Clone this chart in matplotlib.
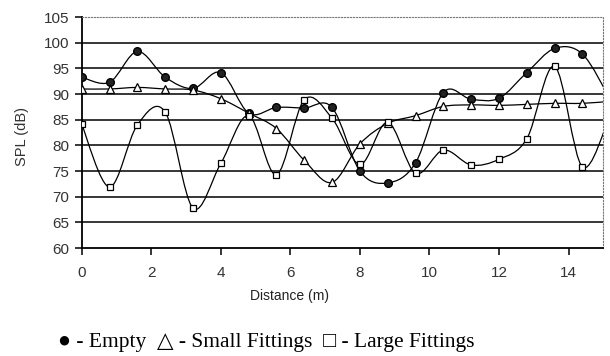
import matplotlib
matplotlib.use("Agg")
import matplotlib.pyplot as plt
from matplotlib.path import Path
from matplotlib.patches import PathPatch
import numpy as np

# distance along the room (m); last point sits just past the axis edge
distance = [0, 0.8, 1.6, 2.4, 3.2, 4.0, 4.8, 5.6, 6.4, 7.2, 8.0, 8.8,
            9.6, 10.4, 11.2, 12.0, 12.8, 13.6, 14.4, 15.2]

spl_empty = [93.3, 92.3, 98.3, 93.3, 91.1, 94.2, 86.3, 87.4, 87.3, 87.4,
             75.0, 72.7, 76.6, 90.3, 89.0, 89.2, 94.2, 98.9, 97.8, 89.0]
spl_small = [91.0, 91.0, 91.3, 91.0, 90.8, 89.1, 86.3, 83.3, 77.1, 72.8,
             80.3, 84.3, 85.8, 87.6, 87.9, 87.8, 88.0, 88.2, 88.2, 88.6]
spl_large = [84.1, 71.9, 84.0, 86.5, 67.8, 76.5, 85.8, 74.3, 88.9, 85.3,
             76.3, 84.5, 74.6, 79.1, 76.2, 77.3, 81.3, 95.4, 75.8, 86.0]

yticks = [60, 65, 70, 75, 80, 85, 90, 95, 100, 105]
xticks = [0, 2, 4, 6, 8, 10, 12, 14]


def smooth_path(x, y):
    # Excel-style smoothed line: cubic Bezier through every point
    p = np.column_stack([x, y]).astype(float)
    ext = np.vstack([p[0], p, p[-1]])
    verts = [p[0]]
    codes = [Path.MOVETO]
    for i in range(len(p) - 1):
        c1 = p[i] + (ext[i + 2] - ext[i]) / 6.0
        c2 = p[i + 1] - (ext[i + 3] - ext[i + 1]) / 6.0
        verts += [c1, c2, p[i + 1]]
        codes += [Path.CURVE4] * 3
    return Path(verts, codes)


fig = plt.figure(figsize=(6.1, 3.56), dpi=100)
ax = fig.add_axes([0.134, 0.303, 0.855, 0.649])

for lvl in yticks[1:-1]:
    ax.axhline(lvl, color="black", lw=1.1, zorder=1)

for ys in (spl_empty, spl_small, spl_large):
    ax.add_patch(PathPatch(smooth_path(distance, ys), facecolor="none",
                           edgecolor="black", lw=0.9, zorder=2))

ax.plot(distance, spl_empty, ls="none", marker="o", ms=5.5,
        mfc="#222222", mec="black", zorder=3)
ax.plot(distance, spl_small, ls="none", marker="^", ms=5.5,
        mfc="white", mec="black", mew=0.9, zorder=3)
ax.plot(distance, spl_large, ls="none", marker="s", ms=5,
        mfc="white", mec="black", mew=0.9, zorder=3)

ax.set_xlim(0, 15)
ax.set_ylim(60, 105)
ax.set_xticks(xticks)
ax.set_yticks(yticks)
ax.tick_params(direction="out", length=5, width=1.1, colors="black",
               labelsize=11, pad=4)
for lab in ax.get_xticklabels() + ax.get_yticklabels():
    lab.set_fontfamily("Liberation Sans")
    lab.set_color("#333333")
ax.tick_params(axis="x", pad=8)

ax.spines["left"].set_linewidth(1.3)
ax.spines["bottom"].set_linewidth(1.3)
ax.spines["top"].set_linestyle(":")
ax.spines["top"].set_color("#777777")
ax.spines["right"].set_linestyle(":")
ax.spines["right"].set_color("#777777")

fig.text(22 / 610, 1 - 137 / 356, "SPL (dB)", rotation=90, ha="center",
         va="center", fontsize=10.5, family="Liberation Sans", color="#333333")
fig.text(290 / 610, 1 - 296 / 356, "Distance (m)", ha="center", va="center",
         fontsize=10, family="Liberation Sans", color="#222222")
fig.text(266 / 610, 1 - 343 / 356,
         "\u25CF - Empty  \u25B3 - Small Fittings  \u25A1 - Large Fittings",
         ha="center", va="center", fontsize=15.5,
         family=["Liberation Serif", "DejaVu Sans"], color="black")

fig.savefig("out.png", dpi=100)
